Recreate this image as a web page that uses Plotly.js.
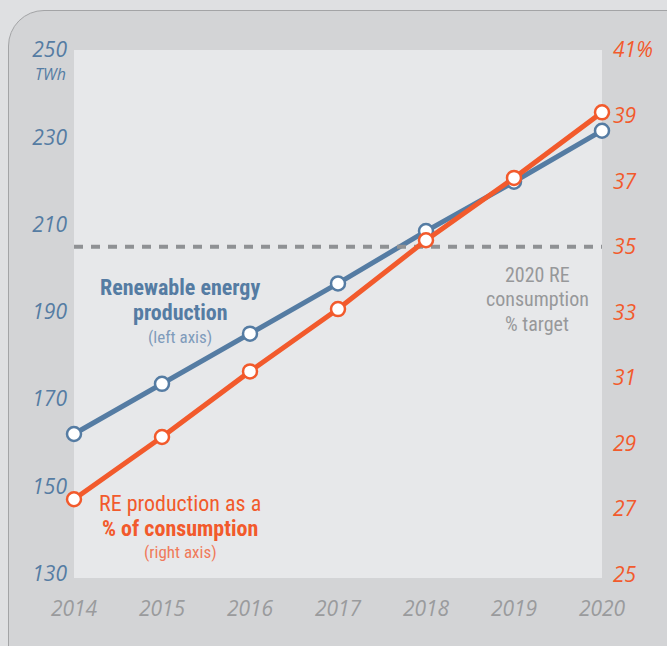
<!DOCTYPE html>
<html>
<head>
<meta charset="utf-8">
<script src="https://cdn.plot.ly/plotly-3.0.1.min.js"></script>
<style>
  html, body { margin: 0; padding: 0; background: #dfe0e2; width: 667px; height: 646px; overflow: hidden; }
  #card { position: absolute; left: 8px; top: 10px; width: 700px; height: 700px; border: 1.5px solid #a3a4a6; border-radius: 36px; background: #d3d4d6; }
  #chart { position: absolute; left: 0; top: 0; width: 667px; height: 646px; }
</style>
</head>
<body>
<div id="card"></div>
<div id="chart"></div>
<script>
const years = [2014, 2015, 2016, 2017, 2018, 2019, 2020];
const reProductionTWh = [162, 173.5, 185, 196.5, 208.5, 219.8, 231.5];
const rePctConsumption = [27.3, 29.2, 31.2, 33.1, 35.2, 37.1, 39.1];
const target2020Pct = 35;
const leftTicks = [130, 150, 170, 190, 210, 230, 250];
const rightTicks = [25, 27, 29, 31, 33, 35, 37, 39, 41];
const rightTickText = ['25', '27', '29', '31', '33', '35', '37', '39', '41%'];

const BLUE = '#557ca3';
const ORANGE = '#f25a2c';
const GRAY = '#8f9194';
const FONT = '"Open Sans", Lato, sans-serif';
const COND = '"Liberation Sans Narrow", "Roboto Condensed", Roboto, sans-serif';

const traces = [
  {
    x: [years[0], years[years.length - 1]], y: [target2020Pct, target2020Pct], yaxis: 'y2',
    mode: 'lines', line: { color: GRAY, width: 4, dash: '9px,8px' }, hoverinfo: 'skip'
  },
  {
    x: years, y: reProductionTWh, mode: 'lines+markers',
    line: { color: BLUE, width: 5 },
    marker: { size: 14, color: '#ffffff', line: { color: BLUE, width: 2.5 } },
    cliponaxis: false
  },
  {
    x: years, y: rePctConsumption, yaxis: 'y2', mode: 'lines+markers',
    line: { color: ORANGE, width: 5 },
    marker: { size: 14, color: '#ffffff', line: { color: ORANGE, width: 2.5 } },
    cliponaxis: false
  }
];

function ann(x, y, text, color, size, weight) {
  return { xref: 'paper', yref: 'paper', x: x, y: y, text: text, showarrow: false,
    xanchor: 'center', yanchor: 'middle',
    font: { family: COND, size: size, color: color, weight: weight || 'normal' } };
}
const W = 667 - 74 - 65, H = 646 - 50 - 68;
function px(x) { return (x - 74) / W; }
function py(y) { return (646 - 68 - y) / H; }

const layout = {
  width: 667, height: 646,
  margin: { l: 74, r: 65, t: 50, b: 68 },
  paper_bgcolor: 'rgba(0,0,0,0)',
  plot_bgcolor: '#e7e8ea',
  showlegend: false,
  xaxis: {
    range: [2014, 2020], tickvals: years, ticktext: years.map(String),
    showgrid: false, zeroline: false, showline: false,
    ticks: '', ticklabelstandoff: 16,
    tickfont: { family: FONT, size: 21, color: '#9a9b9d', style: 'italic' }
  },
  yaxis: {
    range: [129, 250], tickvals: leftTicks, showgrid: false, zeroline: false,
    ticks: '', ticklabelstandoff: 6,
    tickfont: { family: FONT, size: 21, color: BLUE, style: 'italic' }
  },
  yaxis2: {
    overlaying: 'y', side: 'right',
    range: [24.9, 41], tickvals: rightTicks, ticktext: rightTickText,
    showgrid: false, zeroline: false, ticks: '', ticklabelstandoff: 10,
    tickfont: { family: FONT, size: 21, color: ORANGE, style: 'italic' }
  },
  annotations: [
    { xref: 'paper', yref: 'paper', x: px(68), y: py(74), xanchor: 'right', yanchor: 'middle',
      text: 'TWh', showarrow: false, font: { family: FONT, size: 16, color: BLUE, style: 'italic' } },
    ann(px(180), py(287), 'Renewable energy', BLUE, 22, 'bold'),
    ann(px(180), py(312), 'production', BLUE, 22, 'bold'),
    ann(px(180), py(337), '(left axis)', '#7f9bbb', 17),
    ann(px(180), py(503), 'RE production as a', ORANGE, 22),
    ann(px(180), py(528), '% of consumption', ORANGE, 22, 'bold'),
    ann(px(180), py(552), '(right axis)', '#f07a5a', 17),
    ann(px(537), py(275), '2020 RE', '#97989a', 20),
    ann(px(537), py(299), 'consumption', '#97989a', 20),
    ann(px(537), py(324), '% target', '#97989a', 20)
  ]
};

Plotly.newPlot('chart', traces, layout, { displayModeBar: false, staticPlot: true });
</script>
</body>
</html>
